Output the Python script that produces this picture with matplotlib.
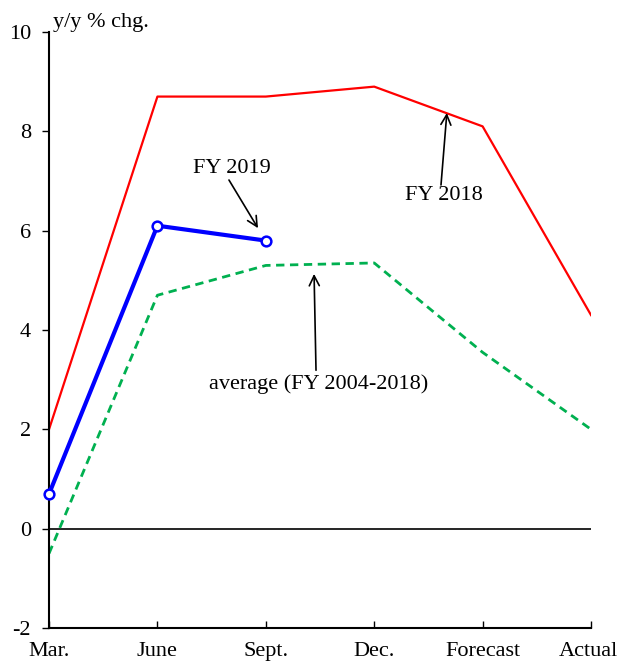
import matplotlib.pyplot as plt
import matplotlib.transforms as mtransforms

plt.rcParams['font.family'] = ['Liberation Serif', 'DejaVu Serif']
plt.rcParams['axes.unicode_minus'] = False

categories = ['Mar.', 'June', 'Sept.', 'Dec.', 'Forecast', 'Actual']
fy2018 = [2.0, 8.7, 8.7, 8.9, 8.1, 4.3]
fy2019 = [0.7, 6.1, 5.8]
average = [-0.5, 4.7, 5.3, 5.35, 3.55, 2.0]

fig = plt.figure(figsize=(6.19, 6.64), dpi=100)
ax = fig.add_axes([0.0792, 0.0542, 0.8756, 0.8976])

x = list(range(len(categories)))
ax.axhline(0, color='black', lw=1.2, zorder=1)
ax.plot(x, fy2018, color='#ff0000', lw=1.6, zorder=2)
ax.plot(x, average, color='#00b050', lw=2, ls=(0, (3, 2)), zorder=2)
ax.plot(x[:len(fy2019)], fy2019, color='#0000ff', lw=3, marker='o', ms=7,
        mfc='white', mec='#0000ff', mew=1.8, zorder=3, clip_on=False)

ax.set_xlim(0, 5)
ax.set_ylim(-2, 10)
ax.set_xticks(x)
ax.set_xticklabels(categories)
ax.set_yticks(range(-2, 11, 2))
ax.tick_params(axis='y', direction='out', length=5, width=1, labelsize=16, pad=8)
ax.tick_params(axis='x', direction='in', length=5, width=1, labelsize=16, pad=10)
# nudge the last label so it stays inside the figure
last = ax.get_xticklabels()[-1]
last.set_transform(last.get_transform() + mtransforms.ScaledTranslation(-3 / 100, 0, fig.dpi_scale_trans))
for s in ['top', 'right']:
    ax.spines[s].set_visible(False)
ax.spines['left'].set_linewidth(1.5)
ax.spines['bottom'].set_linewidth(1.5)

ax.text(0.04, 10.2, 'y/y % chg.', fontsize=16, ha='left', va='center')

arrow = dict(arrowstyle='->', color='black', lw=1.2, shrinkA=0, shrinkB=0,
             mutation_scale=18)
ax.annotate('', xy=(1.928, 6.05), xytext=(1.66, 7.02), arrowprops=arrow)
ax.text(1.688, 7.26, 'FY 2019', fontsize=16, ha='center', va='center')
ax.annotate('', xy=(3.67, 8.37), xytext=(3.616, 6.92), arrowprops=arrow)
ax.text(3.644, 6.70, 'FY 2018', fontsize=16, ha='center', va='center')
ax.annotate('', xy=(2.445, 5.13), xytext=(2.463, 3.19), arrowprops=arrow)
ax.text(2.49, 2.91, 'average (FY 2004-2018)', fontsize=16, ha='center', va='center')

fig.savefig('out.png', dpi=100)
